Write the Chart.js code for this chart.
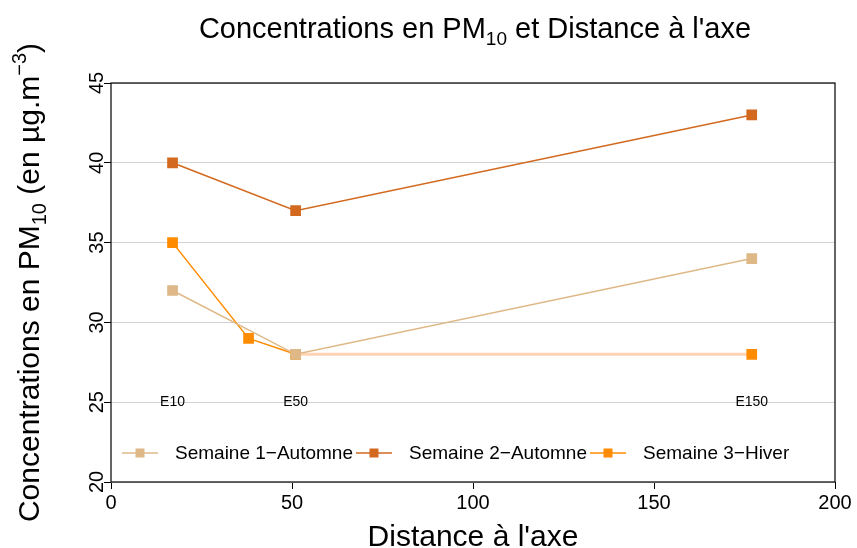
<!DOCTYPE html>
<html>
<head>
<meta charset="utf-8">
<script src="https://cdn.jsdelivr.net/npm/chart.js@4.4.1/dist/chart.umd.min.js"></script>
<style>
  html, body { margin: 0; padding: 0; background: #fff; }
  #wrap { width: 857px; height: 548px; }
</style>
</head>
<body>
<div id="wrap"><canvas id="pmChart"></canvas></div>
<script>
// Données : distance à l'axe (m) et concentrations PM10 (µg.m-3)
const siteLabels = ['E10', 'E50', 'E150'];
const siteDist = [17, 51, 177];

const sem1Dist = [17, 51, 177];
const sem1Vals = [32, 28, 34];

const sem2Dist = [17, 51, 177];
const sem2Vals = [40, 37, 43];

const sem3Dist = [17, 38, 51, 177];
const sem3Vals = [35, 29, 28, 28];

const seriesNames = ['Semaine 1\u2212Automne', 'Semaine 2\u2212Automne', 'Semaine 3\u2212Hiver'];
const seriesColors = ['#DEB887', '#D2691E', '#FF8C00'];

const yTicks = [20, 25, 30, 35, 40, 45];
const xTicks = [0, 50, 100, 150, 200];

const FONT = "'Liberation Sans', Arial, sans-serif";

function toPoints(xs, ys) {
  return xs.map((x, i) => ({ x: x, y: ys[i] }));
}

// dessine un texte composé (indices / exposants) centré sur 0
function drawRich(ctx, parts, cx, cy) {
  let w = 0;
  parts.forEach(p => { ctx.font = p[1] + 'px ' + FONT; w += ctx.measureText(p[0]).width; });
  let x = cx - w / 2;
  ctx.textAlign = 'left';
  ctx.textBaseline = 'alphabetic';
  parts.forEach(p => {
    ctx.font = p[1] + 'px ' + FONT;
    ctx.fillText(p[0], x, cy + p[2]);
    x += ctx.measureText(p[0]).width;
  });
}

// titres, étiquettes E.., graduations y, légende et cadre
const decorPlugin = {
  id: 'decor',
  afterDraw(chart) {
    const ctx = chart.ctx;
    const area = chart.chartArea;
    const xs = chart.scales.x;
    const ys = chart.scales.y;
    ctx.save();
    ctx.fillStyle = '#000';

    // étiquettes des sites
    ctx.font = '14px ' + FONT;
    ctx.textAlign = 'center';
    ctx.textBaseline = 'middle';
    siteLabels.forEach((lab, i) => {
      ctx.fillText(lab, xs.getPixelForValue(siteDist[i]), ys.getPixelForValue(25));
    });

    // graduations y (verticales, comme R)
    ctx.font = '20px ' + FONT;
    yTicks.forEach(v => {
      ctx.save();
      ctx.translate(103, ys.getPixelForValue(v));
      ctx.rotate(-Math.PI / 2);
      ctx.textAlign = 'center';
      ctx.textBaseline = 'alphabetic';
      ctx.fillText(String(v), 0, 0);
      ctx.restore();
    });

    // titre principal avec indice
    const cx = (area.left + area.right) / 2;
    drawRich(ctx, [['Concentrations en PM', 29, 0], ['10', 19, 7], [' et Distance \u00e0 l\'axe', 29, 0]], cx + 2, 38);

    // titre axe x
    ctx.font = '30px ' + FONT;
    ctx.textAlign = 'center';
    ctx.textBaseline = 'alphabetic';
    ctx.fillText('Distance \u00e0 l\'axe', cx, 546);

    // titre axe y (indice + exposant)
    const cy = (area.top + area.bottom) / 2;
    ctx.save();
    ctx.translate(39, cy);
    ctx.rotate(-Math.PI / 2);
    drawRich(ctx, [['Concentrations en PM', 30, 0], ['10', 20, 7], [' (en \u00b5g.m', 30, 0], ['\u22123', 20, -13], [')', 30, 0]], 0, 0);
    ctx.restore();

    // légende dans le graphique
    const legY = 453;
    const legX = [122, 356, 590];
    ctx.font = '19px ' + FONT;
    ctx.textAlign = 'left';
    ctx.textBaseline = 'middle';
    seriesNames.forEach((name, i) => {
      const x0 = legX[i];
      ctx.strokeStyle = seriesColors[i];
      ctx.lineWidth = 1.5;
      ctx.beginPath();
      ctx.moveTo(x0, legY);
      ctx.lineTo(x0 + 36, legY);
      ctx.stroke();
      ctx.fillStyle = seriesColors[i];
      ctx.fillRect(x0 + 18 - 4.5, legY - 4.5, 9, 9);
      ctx.fillStyle = '#000';
      ctx.fillText(name, x0 + 53, legY + 1);
    });

    // cadre
    ctx.strokeStyle = '#000';
    ctx.lineWidth = 1.2;
    ctx.strokeRect(area.left, area.top, area.right - area.left, area.bottom - area.top);
    ctx.restore();
  }
};

const ctxEl = document.getElementById('pmChart');
new Chart(ctxEl, {
  type: 'line',
  data: {
    datasets: [
      { label: seriesNames[0], data: toPoints(sem1Dist, sem1Vals), borderColor: seriesColors[0], backgroundColor: seriesColors[0] },
      { label: seriesNames[1], data: toPoints(sem2Dist, sem2Vals), borderColor: seriesColors[1], backgroundColor: seriesColors[1] },
      {
        label: seriesNames[2], data: toPoints(sem3Dist, sem3Vals), borderColor: seriesColors[2], backgroundColor: seriesColors[2],
        segment: { borderColor: c => (c.p1DataIndex === sem3Vals.length - 1 ? '#FFD3B3' : undefined),
                   borderWidth: c => (c.p1DataIndex === sem3Vals.length - 1 ? 3 : undefined) }
      }
    ]
  },
  options: {
    responsive: true,
    maintainAspectRatio: false,
    animation: false,
    datasets: {
      line: { borderWidth: 1.5, pointStyle: 'rect', pointRadius: 6.5, pointHoverRadius: 6.5, tension: 0, fill: false }
    },
    layout: { padding: { top: 83, right: 22, left: 0, bottom: 0 } },
    plugins: {
      legend: { display: false },
      tooltip: { enabled: false },
      title: { display: false }
    },
    scales: {
      x: {
        type: 'linear',
        min: 0,
        max: 200,
        afterBuildTicks: s => { s.ticks = xTicks.map(v => ({ value: v })); },
        afterFit: s => { s.height = 66; },
        border: { display: false },
        grid: { drawOnChartArea: false, tickLength: 7, tickColor: '#000', lineWidth: 1 },
        ticks: { color: '#000', font: { family: FONT, size: 20 }, padding: 2, maxRotation: 0 }
      },
      y: {
        min: 20,
        max: 45,
        afterBuildTicks: s => { s.ticks = yTicks.map(v => ({ value: v })); },
        afterFit: s => { s.width = 111; },
        border: { display: false },
        grid: { color: '#d4d4d4', lineWidth: 1, tickLength: 7, tickColor: '#000' },
        ticks: { display: false }
      }
    }
  },
  plugins: [decorPlugin]
});
</script>
</body>
</html>
